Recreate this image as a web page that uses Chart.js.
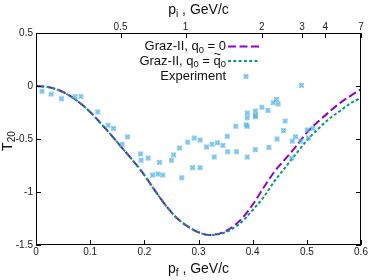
<!DOCTYPE html>
<html><head><meta charset="utf-8">
<script src="https://cdn.jsdelivr.net/npm/chart.js@4"></script>
<style>html,body{margin:0;padding:0;background:#fff}canvas{display:block}</style>
</head><body>
<canvas id="c" width="374" height="280"></canvas>
<script>
// ---- data ----
const pf = [0,0.02,0.04,0.06,0.08,0.10,0.12,0.14,0.16,0.18,0.20,0.22,0.24,0.26,0.28,0.30,0.32,0.34,0.36,0.38,0.40,0.42,0.44,0.46,0.48,0.50,0.52,0.54,0.56,0.58,0.60];
const t20Graz0 = [0,-0.008,-0.035,-0.085,-0.155,-0.245,-0.355,-0.47,-0.59,-0.71,-0.84,-0.99,-1.13,-1.245,-1.325,-1.38,-1.405,-1.39,-1.34,-1.25,-1.12,-0.96,-0.81,-0.69,-0.57,-0.44,-0.34,-0.25,-0.165,-0.095,-0.03];
const t20GrazTilde = [0,-0.008,-0.035,-0.085,-0.155,-0.245,-0.355,-0.47,-0.59,-0.71,-0.84,-0.99,-1.13,-1.245,-1.325,-1.38,-1.405,-1.395,-1.355,-1.28,-1.17,-1.05,-0.90,-0.77,-0.64,-0.515,-0.41,-0.315,-0.24,-0.165,-0.11];
const expPf = [0.011,0.028,0.047,0.072,0.083,0.114,0.133,0.143,0.159,0.169,0.193,0.194,0.207,0.228,0.250,0.254,0.265,0.280,0.215,0.225,0.234,0.269,0.292,0.303,0.289,0.303,0.315,0.325,0.335,0.345,0.329,0.353,0.354,0.370,0.369,0.390,0.388,0.390,0.390,0.390,0.405,0.405,0.405,0.417,0.428,0.438,0.444,0.447,0.460,0.457,0.445,0.430,0.405,0.479,0.473,0.489,0.501,0.511,0.503,0.472,0.490];
const expT20 = [-0.05,-0.076,-0.12,-0.10,-0.098,-0.245,-0.37,-0.40,-0.55,-0.48,-0.64,-0.70,-0.68,-0.72,-0.70,-0.65,-0.585,-0.53,-0.84,-0.83,-0.84,-0.865,-0.49,-0.51,-0.77,-0.77,-0.575,-0.55,-0.535,-0.56,-0.67,-0.475,-0.62,-0.62,-0.38,-0.67,-0.365,-0.38,-0.30,-0.255,-0.236,-0.277,-0.29,-0.20,-0.23,-0.158,-0.126,-0.17,-0.33,-0.42,-0.50,-0.58,-0.60,-0.478,-0.52,-0.52,-0.415,-0.40,-0.49,-0.68,0.006];
const xTicks = [0,0.1,0.2,0.3,0.4,0.5,0.6];
const yTicks = [-1.5,-1,-0.5,0,0.5];
const topTickPf = [0.156,0.276,0.417,0.491,0.534,0.6];
const topTickLabels = ['0.5','1','2','3','4','7'];
const legendLabels = ['Graz-II, q0 = 0','Graz-II, q0 = q̃0','Experiment'];

const FONT = '"Liberation Sans", Arial, sans-serif';
const PURPLE = '#9400D3', GREEN = '#009E73', BLUE = '#56B4E9';

// marker: light square with x
const mk = document.createElement('canvas');
mk.width = 7; mk.height = 7;
(function(){
  const c = mk.getContext('2d');
  c.fillStyle = 'rgba(86,180,233,0.55)';
  c.fillRect(1,1,5,5);
  c.strokeStyle = BLUE; c.lineWidth = 1;
  c.beginPath(); c.moveTo(1.5,1.5); c.lineTo(5.5,5.5); c.moveTo(5.5,1.5); c.lineTo(1.5,5.5); c.stroke();
})();

function drawRich(ctx, parts, x, y, align, size) {
  let w = 0;
  parts.forEach(p => { ctx.font = (p.sub ? size*0.72 : size) + 'px ' + FONT; p.w = ctx.measureText(p.t).width; w += p.w; });
  let cx = align === 'right' ? x - w : (align === 'center' ? x - w/2 : x);
  ctx.textAlign = 'left'; ctx.textBaseline = 'alphabetic';
  parts.forEach(p => {
    ctx.font = (p.sub ? size*0.72 : size) + 'px ' + FONT;
    ctx.fillText(p.t, cx, y + (p.sub ? size*0.22 : 0));
    if (p.tilde) {
      ctx.font = size + 'px ' + FONT;
      ctx.fillText('~', cx + (p.w - ctx.measureText('~').width)/2, y - size*0.47);
    }
    cx += p.w;
  });
}

const deco = {
  id: 'deco',
  afterDraw(chart) {
    const ctx = chart.ctx, a = chart.chartArea;
    const sx = chart.scales.x, sy = chart.scales.y;
    ctx.save();
    ctx.strokeStyle = '#000'; ctx.lineWidth = 1;
    ctx.strokeRect(Math.round(a.left)+0.5, Math.round(a.top)+0.5, Math.round(a.right-a.left)-1, Math.round(a.bottom-a.top)-1);
    ctx.beginPath();
    const TL = 5;
    xTicks.forEach(v => { const px = Math.round(sx.getPixelForValue(v))+0.5; ctx.moveTo(px, a.bottom); ctx.lineTo(px, a.bottom-TL); });
    topTickPf.forEach(v => { const px = Math.round(sx.getPixelForValue(v))+0.5; ctx.moveTo(px, a.top); ctx.lineTo(px, a.top+TL); });
    yTicks.forEach(v => { const py = Math.round(sy.getPixelForValue(v))+0.5; ctx.moveTo(a.left, py); ctx.lineTo(a.left+TL, py); ctx.moveTo(a.right, py); ctx.lineTo(a.right-TL, py); });
    ctx.stroke();

    ctx.fillStyle = '#111';
    const cxm = (a.left + a.right)/2;
    drawRich(ctx, [{t:'p'},{t:'f',sub:true},{t:' , GeV/c'}], cxm, 273, 'center', 14);
    drawRich(ctx, [{t:'p'},{t:'i',sub:true},{t:' , GeV/c'}], cxm, 14, 'center', 14);
    ctx.save();
    ctx.translate(12, (a.top + a.bottom)/2 + 2);
    ctx.rotate(-Math.PI/2);
    drawRich(ctx, [{t:'T'},{t:'20',sub:true}], 0, 0, 'center', 14);
    ctx.restore();

    // legend
    const tx = 226, s0 = 228, s1 = 260;
    const rows = [50, 64.5, 80];
    ctx.fillStyle = '#111';
    drawRich(ctx, [{t:'Graz-II, q'},{t:'0',sub:true},{t:' = 0'}], tx, rows[0], 'right', 13);
    drawRich(ctx, [{t:'Graz-II, q'},{t:'0',sub:true},{t:' = '},{t:'q',tilde:true},{t:'0',sub:true}], tx, rows[1], 'right', 13);
    drawRich(ctx, [{t:legendLabels[2]}], tx, rows[2], 'right', 13);
    ctx.lineWidth = 2;
    ctx.strokeStyle = PURPLE; ctx.setLineDash([8,3.5]);
    ctx.beginPath(); ctx.moveTo(s0, rows[0]-3.5); ctx.lineTo(s1, rows[0]-3.5); ctx.stroke();
    ctx.strokeStyle = GREEN; ctx.setLineDash([3,2.3]);
    ctx.beginPath(); ctx.moveTo(s0, rows[1]-3.5); ctx.lineTo(s1, rows[1]-3.5); ctx.stroke();
    ctx.setLineDash([]);
    ctx.drawImage(mk, 246-3.5, rows[2]-3.5-3.5);
    ctx.restore();
  }
};

const tickFont = {family: FONT, size: 10};
const noGrid = {display: false, drawTicks: false, tickLength: 0};
new Chart(document.getElementById('c'), {
  type: 'line',
  data: {
    datasets: [
      {label: legendLabels[0], data: pf.map((x,i)=>({x, y:t20Graz0[i]})), borderColor: PURPLE, borderWidth: 2, borderDash: [8,3.5], pointRadius: 0, fill: false, cubicInterpolationMode: 'monotone', order: 3},
      {label: legendLabels[1], data: pf.map((x,i)=>({x, y:t20GrazTilde[i]})), borderColor: GREEN, borderWidth: 2, borderDash: [3,2.3], pointRadius: 0, fill: false, cubicInterpolationMode: 'monotone', order: 2},
      {label: legendLabels[2], data: expPf.map((x,i)=>({x, y:expT20[i]})), showLine: false, pointStyle: mk, pointRadius: 3, order: 1}
    ]
  },
  options: {
    responsive: false, animation: false, devicePixelRatio: 1,
    layout: {padding: {left: 0, right: 13, top: 0, bottom: 0}},
    plugins: {legend: {display: false}, tooltip: {enabled: false}},
    scales: {
      x: {type: 'linear', position: 'bottom', min: 0, max: 0.6,
        afterBuildTicks: s => { s.ticks = xTicks.map(v => ({value: v})); },
        afterFit: s => { s.height = 35; },
        grid: noGrid, border: {display: false},
        ticks: {padding: 1, color: '#222', font: tickFont, maxRotation: 0, autoSkip: false, callback: (v) => String(v)}},
      x2: {type: 'linear', position: 'top', min: 0, max: 0.6,
        afterBuildTicks: s => { s.ticks = topTickPf.map(v => ({value: v})); },
        afterFit: s => { s.height = 33; },
        grid: noGrid, border: {display: false},
        ticks: {padding: 0, color: '#222', font: tickFont, maxRotation: 0, autoSkip: false, callback: (v, i) => topTickLabels[i]}},
      y: {type: 'linear', position: 'left', min: -1.5, max: 0.5,
        afterBuildTicks: s => { s.ticks = yTicks.map(v => ({value: v})); },
        afterFit: s => { s.width = 36; },
        grid: noGrid, border: {display: false},
        ticks: {padding: 3, color: '#222', font: tickFont, autoSkip: false, callback: (v) => String(v)}}
    }
  },
  plugins: [deco]
});
</script>
</body></html>
